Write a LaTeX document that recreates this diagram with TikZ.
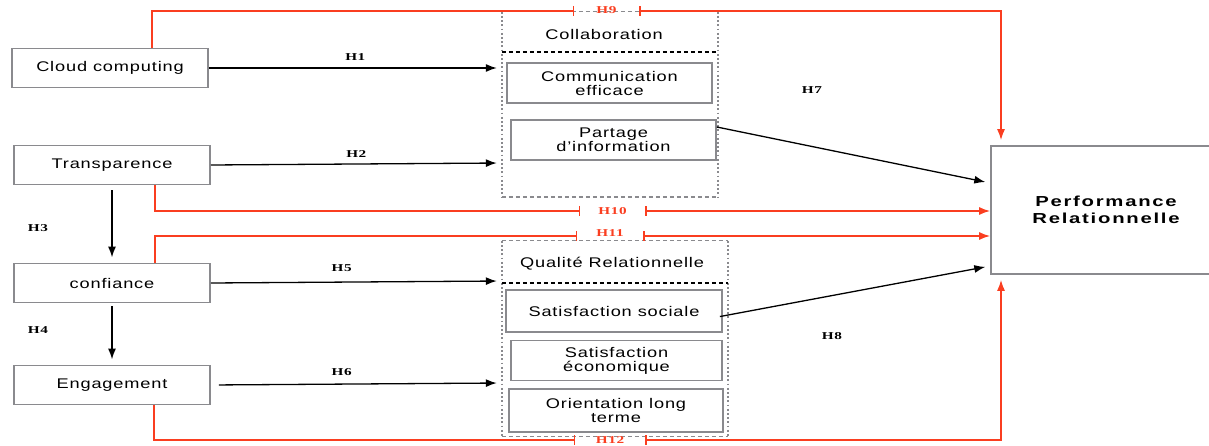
\documentclass[tikz,border=0pt]{standalone}
\usepackage{fontspec}
\setmainfont[FakeStretch=1.3,LetterSpace=6]{Liberation Sans}
\newfontfamily\perffont[FakeStretch=1.4,LetterSpace=12]{Liberation Sans}
\newfontfamily\hypfont[FakeStretch=1.45,LetterSpace=6]{Liberation Serif}
\usetikzlibrary{arrows.meta,calc}
\definecolor{hred}{RGB}{250,62,32}
\definecolor{boxgray}{RGB}{138,138,142}

\begin{document}
\begin{tikzpicture}[x=1pt,y=-1pt,
    construct/.style={draw=boxgray,line width=1.6pt,minimum width=196pt,minimum height=39pt,inner sep=0pt,align=center,font=\fontsize{14}{14}\selectfont},
    item/.style={construct,minimum height=40pt},
    frame/.style={inner sep=0pt},
    frameline/.style={draw=boxgray,line width=1.8pt},
    hyp/.style={font=\hypfont\bfseries\fontsize{10.5}{10.5}\selectfont,inner sep=1pt},
    link/.style={-{Latex[length=11pt,width=8pt]},line width=1.3pt,shorten >=5pt},
    redlink/.style={draw=hred,line width=1.6pt},
    redend/.style={redlink,-{Bar[width=10pt,line width=1.5pt]}},
    redarrow/.style={redlink,{Bar[width=10pt,line width=1.5pt]}-{Latex[length=11pt,width=8pt]}}]
    \useasboundingbox (0,0) rectangle (1209,446);
    % Left constructs
    \node[construct] (cloud) at (110,68) {Cloud computing};
    \node[construct] (transp) at (112,165) {Transparence};
    \node[construct] (conf) at (112,283) {confiance};
    \node[construct] (engag) at (112,385) {Engagement};
    % Collaboration group
    \node[frame,minimum width=216pt,minimum height=185pt] (collab) at (610,104.5) {};
    \node[font=\fontsize{14}{14}\selectfont] (collabt) at (604,34) {Collaboration};
    \node[item,minimum width=205pt] (comm) at (609.5,83) {Communication\\efficace};
    \node[item,minimum width=205pt] (partage) at (613.5,140) {Partage\\d'information};
    % Qualite group
    \node[frame,minimum width=226pt,minimum height=195pt] (qualite) at (615,338.5) {};
    \node[font=\fontsize{14}{14}\selectfont] (qualitet) at (612,264) {Qualité Relationnelle};
    \node[item,minimum width=216pt,minimum height=42pt] (satsoc) at (614,311) {Satisfaction sociale};
    \node[item,minimum width=211pt] (sateco) at (616.5,360.5) {Satisfaction\\économique};
    \node[item,minimum width=214pt,minimum height=43pt] (orient) at (616,410.5) {Orientation long\\terme};
    % Frames: dashed top/bottom, dotted sides
    \foreach \g in {collab,qualite} {
        \draw[frameline,line width=1.4pt,dash pattern=on 4pt off 3pt] (\g.north west) -- (\g.north east);
        \draw[frameline,line width=1.4pt,dash pattern=on 4pt off 3pt] (\g.south west) -- (\g.south east);
        \draw[frameline,dash pattern=on 1.8pt off 2.4pt] (\g.north west) -- (\g.south west);
        \draw[frameline,dash pattern=on 1.8pt off 2.4pt] (\g.north east) -- (\g.south east);
    }
    \draw[line width=1.2pt,dash pattern=on 4pt off 3pt] (collab.west |- 0,52) -- (collab.east |- 0,52);
    \draw[line width=1.2pt,dash pattern=on 4pt off 3pt] (qualite.west |- 0,283) -- (qualite.east |- 0,283);
    % Outcome
    \node[construct,minimum width=230pt,minimum height=128pt,font=\perffont\bfseries\fontsize{14.5}{16.5}\selectfont] (perf) at (1106,210) {Performance\\Relationnelle};
    % Black hypotheses
    \draw[link] (cloud.east) -- (collab.west |- cloud) node[hyp,pos=0.5,above=6pt] (h1) {H1};
    \draw[link] (transp.east) -- (collab.west |- 0,163) node[hyp,pos=0.5,above=5pt] (h2) {H2};
    \draw[link,line width=1.8pt] (transp.south) ++(0,5) -- (conf.north);
    \draw[link,line width=1.8pt] (conf.south) ++(0,3) -- (engag.north);
    \node[hyp] (h3) at (38,228) {H3};
    \node[hyp] (h4) at (38,330) {H4};
    \draw[link] (conf.east) -- (qualite.west |- 0,281) node[hyp,pos=0.45,above=9pt] (h5) {H5};
    \draw[link,shorten <=8pt] (engag.east) -- (qualite.west |- 0,383) node[hyp,pos=0.45,above=7pt] (h6) {H6};
    \draw[link] ([yshift=13pt]partage.east) -- ([yshift=27pt]perf.west);
    \draw[link,shorten <=-3pt] ([yshift=-5pt]satsoc.east) -- ([yshift=-56pt]perf.west);
    \node[hyp] (h7) at (812,90) {H7};
    \node[hyp] (h8) at (832,336) {H8};
    % Red hypotheses
    \coordinate (h9a) at (574,11);  \coordinate (h9b) at (639,11);
    \coordinate (h10a) at (580,211); \coordinate (h10b) at (645,211);
    \coordinate (h11a) at (577,236); \coordinate (h11b) at (643,236);
    \coordinate (h12a) at (575,440); \coordinate (h12b) at (645,440);
    \draw[redend] ([xshift=42pt]cloud.north) |- (h9a);
    \draw[redarrow,shorten >=5pt] (h9b) -| ([xshift=-105pt]perf.north);
    \draw[redend] ([xshift=43pt]transp.south) |- (h10a);
    \draw[redarrow] (h10b) -- (perf.west |- h10b);
    \draw[redend] ([xshift=43pt]conf.north) |- (h11a);
    \draw[redarrow] (h11b) -- (perf.west |- h11b);
    \draw[redend] ([xshift=42pt]engag.south) |- (h12a);
    \draw[redarrow,shorten >=5pt] (h12b) -| ([xshift=-105pt]perf.south);
    \foreach \a/\b/\t/\dy in {h9a/h9b/H9/1,h10a/h10b/H10/0,h11a/h11b/H11/3,h12a/h12b/H12/0} {
        \node[hyp,text=hred,yshift=\dy pt] (l\t) at ($(\a)!0.5!(\b)$) {\t};
    }
\end{tikzpicture}
\end{document}
